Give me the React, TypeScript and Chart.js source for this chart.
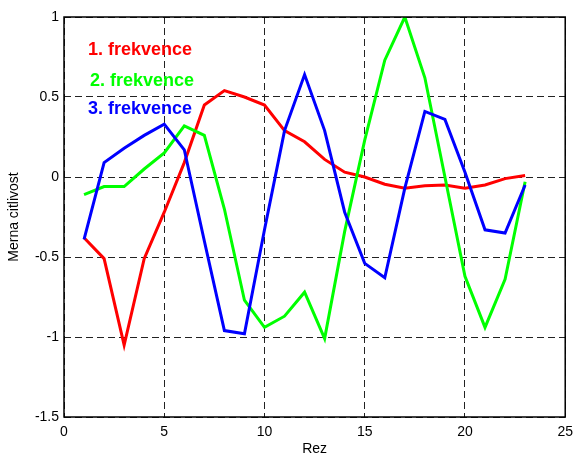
import React, { useEffect, useRef } from 'react';
import { Chart, registerables } from 'chart.js';

Chart.register(...registerables);

const xValues = [1, 2, 3, 4, 5, 6, 7, 8, 9, 10, 11, 12, 13, 14, 15, 16, 17, 18, 19, 20, 21, 22, 23];
const freq1 = [-0.38, -0.51, -1.05, -0.51, -0.22, 0.09, 0.45, 0.54, 0.5, 0.45, 0.29, 0.22, 0.11, 0.03, 0.0, -0.045, -0.07, -0.055, -0.05, -0.07, -0.05, -0.01, 0.01];
const freq2 = [-0.11, -0.06, -0.06, 0.05, 0.15, 0.32, 0.26, -0.2, -0.77, -0.94, -0.87, -0.72, -1.01, -0.34, 0.23, 0.73, 1.0, 0.62, 0.0, -0.62, -0.94, -0.64, -0.03];
const freq3 = [-0.39, 0.09, 0.18, 0.26, 0.33, 0.17, -0.4, -0.96, -0.98, -0.33, 0.29, 0.64, 0.29, -0.22, -0.54, -0.63, -0.07, 0.41, 0.36, 0.03, -0.33, -0.35, -0.05];
const seriesLabels = ['1. frekvence', '2. frekvence', '3. frekvence'];
const seriesColors = ['#ff0000', '#00ff00', '#0000ff'];
const xTitle = 'Rez';
const yTitle = 'Merna citlivost';

const FONT = '"Liberation Sans", Arial, Helvetica, sans-serif';

export default function App() {
  const ref = useRef<HTMLCanvasElement>(null);

  useEffect(() => {
    const canvas = ref.current;
    if (!canvas) return;
    const toPts = (ys: number[]) => xValues.map((x, i) => ({ x, y: ys[i] }));

    const textLegend = {
      id: 'textLegend',
      afterDatasetsDraw(chart: any) {
        const { ctx, chartArea } = chart;
        ctx.save();
        ctx.font = 'bold 18px ' + FONT;
        ctx.textAlign = 'left';
        ctx.textBaseline = 'middle';
        const offs = [
          { dx: 24, dy: 33 },
          { dx: 26, dy: 64 },
          { dx: 24, dy: 92 },
        ];
        seriesLabels.forEach((t, i) => {
          ctx.fillStyle = seriesColors[i];
          ctx.fillText(t, chartArea.left + offs[i].dx, chartArea.top + offs[i].dy);
        });
        ctx.restore();
      },
    };

    const frame = {
      id: 'frame',
      afterDraw(chart: any) {
        const { ctx, chartArea } = chart;
        ctx.save();
        ctx.strokeStyle = '#000';
        ctx.lineWidth = 1.5;
        ctx.setLineDash([]);
        ctx.strokeRect(chartArea.left, chartArea.top, chartArea.right - chartArea.left, chartArea.bottom - chartArea.top);
        ctx.restore();
      },
    };

    const data = [freq1, freq2, freq3];
    const chart = new Chart(canvas, {
      type: 'line',
      data: {
        datasets: data.map((ys, i) => ({
          label: seriesLabels[i],
          data: toPts(ys),
          borderColor: seriesColors[i],
          backgroundColor: seriesColors[i],
          borderWidth: 3,
          pointRadius: 0,
          tension: 0,
          fill: false,
          order: 2 - i,
        })),
      },
      options: {
        responsive: false,
        devicePixelRatio: 1,
        animation: false,
        layout: { padding: { top: 17, right: 9, left: 0, bottom: 0 } },
        plugins: {
          legend: { display: false },
          tooltip: { enabled: false },
        },
        scales: {
          x: {
            type: 'linear',
            min: 0,
            max: 25,
            ticks: { stepSize: 5, padding: 7, color: '#000', font: { family: FONT, size: 14 }, callback: (v: any) => String(v) },
            grid: { color: '#222', lineWidth: 1, drawTicks: false },
            border: { display: false, dash: [7, 4] },
            title: {
              display: true,
              text: xTitle,
              color: '#000',
              font: { family: FONT, size: 14 },
              padding: { top: 0, bottom: -3 },
            },
            afterFit: (s: any) => {
              s.height = 38;
            },
          },
          y: {
            type: 'linear',
            min: -1.5,
            max: 1,
            ticks: { stepSize: 0.5, padding: 5, color: '#000', font: { family: FONT, size: 14 }, callback: (v: any) => String(v) },
            grid: { color: '#222', lineWidth: 1, drawTicks: false },
            border: { display: false, dash: [7, 4] },
            title: {
              display: true,
              text: yTitle,
              color: '#000',
              font: { family: FONT, size: 14 },
              padding: { top: 6, bottom: 0 },
            },
            afterFit: (s: any) => {
              s.width = 64;
            },
          },
        },
      },
      plugins: [textLegend, frame],
    } as any);

    return () => chart.destroy();
  }, []);

  return (
    <div style={{ position: 'absolute', left: 0, top: 0, width: 580, height: 455, background: '#fff' }}>
      <canvas ref={ref} width={580} height={455} style={{ display: 'block' }} />
    </div>
  );
}
